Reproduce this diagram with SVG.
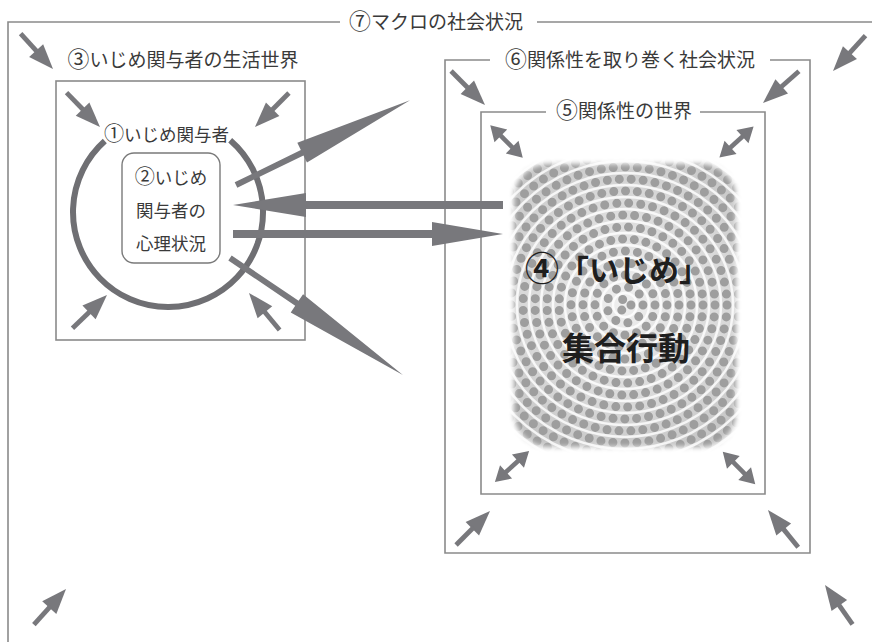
<svg xmlns="http://www.w3.org/2000/svg" xmlns:xlink="http://www.w3.org/1999/xlink" width="872" height="642" viewBox="0 0 872 642">
<style>
.t{font-family:'Noto Sans CJK JP','Noto Sans',sans-serif;fill:#3a3a3a;text-anchor:middle}
.t19{font-size:19px}
.t17{font-size:17.5px}
.tb{font-weight:bold;fill:#1e1e1e}
.cd{font-size:1.15em}
.frame{fill:none;stroke:#8a8a8a;stroke-width:1.6}
.ring{fill:none;stroke:#9e9e9e;stroke-width:9;stroke-linecap:round}
.hl{fill:none;stroke:#ffffff;stroke-width:2.4;stroke-opacity:.8}
</style>
<defs>
<g id="sa"><path d="M0 0 L-25 -9.5 L-25 9.5 Z"/><rect x="-48" y="-2.4" width="25" height="4.8"/></g>
<g id="da"><path d="M23 0 L8 -9 L8 9 Z M-23 0 L-8 -9 L-8 9 Z"/><rect x="-10" y="-2.3" width="20" height="4.6"/></g>
<filter id="blur" x="-10%" y="-10%" width="120%" height="120%"><feGaussianBlur stdDeviation="2.5"/></filter>
<filter id="soft" x="-5%" y="-5%" width="110%" height="110%"><feGaussianBlur stdDeviation="0.6"/></filter>
<mask id="pm"><rect x="514" y="164" width="222" height="283" rx="34" fill="#fff" filter="url(#blur)"/></mask>
<radialGradient id="bg" cx="625" cy="300" r="190" gradientUnits="userSpaceOnUse">
<stop offset="0" stop-color="#efefef"/><stop offset="0.55" stop-color="#d8d8d8"/><stop offset="1" stop-color="#bdbdbd"/>
</radialGradient>
</defs>
<rect width="872" height="642" fill="#fff"/>

<g id="macro">
<path class="frame" d="M340 22 H8 V642 M537 22 H872"/>
<text class="t t19" x="436" y="29"><tspan class="cd">⑦</tspan>マクロの社会状況</text>
</g>

<g id="lifeworld">
<rect class="frame" x="56" y="81" width="249" height="259"/>
<text class="t t19" x="183" y="67"><tspan class="cd">③</tspan>いじめ関与者の生活世界</text>
</g>

<g id="participants">
<path d="M104.8 141.1 A95 95 0 1 0 230.2 140.2" fill="none" stroke="#6f6f73" stroke-width="6"/>
<text class="t t17" x="166.5" y="141"><tspan class="cd">①</tspan>いじめ関与者</text>
</g>

<g id="psychology">
<rect x="122" y="153" width="98" height="110" rx="12" fill="#fff" stroke="#7a7a7a" stroke-width="1.4"/>
<text class="t t17" x="171" y="184"><tspan class="cd">②</tspan>いじめ</text>
<text class="t t17" x="171" y="217">関与者の</text>
<text class="t t17" x="171" y="250">心理状況</text>
</g>

<g id="social">
<path class="frame" d="M490 60 H445 V553 H810 V60 H770"/>
<text class="t t19" x="630" y="67"><tspan class="cd">⑥</tspan>関係性を取り巻く社会状況</text>
</g>

<g id="relations">
<path class="frame" d="M546 112 H481 V494 H765 V112 H700"/>
<text class="t t19" x="624" y="118"><tspan class="cd">⑤</tspan>関係性の世界</text>
</g>

<g id="collective">
<g mask="url(#pm)">
<rect x="505" y="155" width="240" height="300" fill="url(#bg)"/>
<g transform="translate(625 305)" filter="url(#soft)">
<circle class="ring" r="6" stroke-dasharray="0 12.566"/>
<circle class="ring" r="18" stroke-dasharray="0 12.566"/>
<circle class="ring" r="30" stroke-dasharray="0 11.781"/>
<circle class="ring" r="42" stroke-dasharray="0 11.995"/>
<circle class="ring" r="54" stroke-dasharray="0 12.118"/>
<circle class="ring" r="66" stroke-dasharray="0 11.848"/>
<circle class="ring" r="78" stroke-dasharray="0 11.953"/>
<circle class="ring" r="90" stroke-dasharray="0 12.032"/>
<circle class="ring" r="102" stroke-dasharray="0 12.092"/>
<circle class="ring" r="114" stroke-dasharray="0 11.938"/>
<circle class="ring" r="126" stroke-dasharray="0 11.995"/>
<circle class="ring" r="138" stroke-dasharray="0 12.043"/>
<circle class="ring" r="150" stroke-dasharray="0 11.930"/>
<circle class="ring" r="162" stroke-dasharray="0 11.975"/>
<circle class="ring" r="174" stroke-dasharray="0 12.014"/>
<circle class="ring" r="186" stroke-dasharray="0 12.048"/>
<circle class="hl" r="12"/><circle class="hl" r="24"/><circle class="hl" r="36"/><circle class="hl" r="48"/>
<circle class="hl" r="60"/><circle class="hl" r="72"/><circle class="hl" r="84"/><circle class="hl" r="96"/>
<circle class="hl" r="108"/><circle class="hl" r="120"/><circle class="hl" r="132"/><circle class="hl" r="144"/>
<circle class="hl" r="156"/><circle class="hl" r="168"/><circle class="hl" r="180"/>
</g>
</g>
<text class="t tb" x="617" y="281" font-size="30"><tspan font-size="34">④</tspan>「いじめ」</text>
<text class="t tb" x="626" y="360" font-size="32">集合行動</text>
</g>

<g id="connectors" fill="#78787c">
<polygon transform="translate(236 185) rotate(-26)" points="0,-3 73.6,-3 73.6,-11 193.6,0 73.6,11 73.6,3 0,3"/>
<polygon transform="translate(503 205) rotate(180)" points="0,-4 197,-4 197,-12 270,0 197,12 197,4 0,4"/>
<polygon transform="translate(233 234)" points="0,-4 199,-4 199,-12 270,0 199,12 199,4 0,4"/>
<polygon transform="translate(230 258) rotate(34.1)" points="0,-3 80.8,-3 80.8,-11 208.8,0 80.8,11 80.8,3 0,3"/>

<use xlink:href="#sa" transform="translate(53 69) rotate(47.6)"/>
<use xlink:href="#sa" transform="translate(833 71) rotate(132.6)"/>
<use xlink:href="#sa" transform="translate(66 589) rotate(-48)"/>
<use xlink:href="#sa" transform="translate(825 585) rotate(-125)"/>

<use xlink:href="#sa" transform="translate(100 127) rotate(45.8)"/>
<use xlink:href="#sa" transform="translate(255 127) rotate(135)"/>
<use xlink:href="#sa" transform="translate(107 295) rotate(-44)"/>
<use xlink:href="#sa" transform="translate(249 293) rotate(-129.6)"/>

<use xlink:href="#sa" transform="translate(485 105) rotate(45)"/>
<use xlink:href="#sa" transform="translate(763 103) rotate(138.5)"/>
<use xlink:href="#sa" transform="translate(490 511) rotate(-45)"/>
<use xlink:href="#sa" transform="translate(768 510) rotate(-129)"/>

<use xlink:href="#da" transform="translate(506.5 141.5) rotate(45)"/>
<use xlink:href="#da" transform="translate(736.5 142) rotate(-42)"/>
<use xlink:href="#da" transform="translate(512 466.5) rotate(-42)"/>
<use xlink:href="#da" transform="translate(739 468) rotate(45)"/>
</g>
</svg>
